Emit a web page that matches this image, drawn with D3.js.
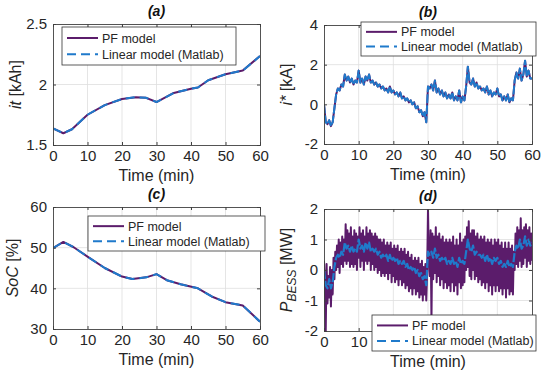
<!DOCTYPE html>
<html>
<head>
<meta charset="utf-8">
<script src="https://cdn.jsdelivr.net/npm/d3@7/dist/d3.min.js"></script>
<style>
  body { margin: 0; background: #fff; }
  svg { font-family: "Liberation Sans", Arial, sans-serif; }
  .tick text { fill: #262626; font-size: 15px; font-family: "Liberation Sans", Arial, sans-serif; }
  .axis path, .axis line { stroke: #404040; }
</style>
</head>
<body>
<svg id="fig" width="550" height="376"></svg>
<script>
// ---- data ----
var xTicks = [0, 10, 20, 30, 40, 50, 60];

// (a) it [kAh]
var itTime = [0, 3, 5.5, 10, 15, 20, 24, 27, 30, 35, 40, 42, 45, 50, 55, 60];
var itVal  = [1.638, 1.597, 1.63, 1.75, 1.83, 1.88, 1.895, 1.89, 1.855, 1.93, 1.965, 1.975, 2.035, 2.085, 2.115, 2.235];

// (c) SoC [%]
var socTime = [0, 3, 6, 10, 15, 20, 23, 27, 30, 33, 37, 42, 46, 50, 55, 60];
var socVal  = [49.9, 51.4, 50.1, 47.8, 45.0, 42.9, 42.3, 42.7, 43.5, 42.0, 41.0, 40.0, 38.0, 36.6, 35.8, 31.8];

// (b) i* [kA], one sample every 0.5 min
var iStar = [
  0.0, -0.9, -1.0, -0.8, -1.1, -0.9, -0.2, 0.5, 0.8, 0.7,
  1.0, 0.9, 1.5, 1.2, 1.4, 1.1, 1.3, 1.0, 1.2, 1.1,
  1.7, 1.1, 1.3, 1.0, 1.4, 1.2, 1.5, 1.1, 1.2, 1.0,
  1.1, 0.9, 1.0, 0.8, 0.9, 0.7, 0.8, 0.6, 0.9, 0.6,
  0.7, 0.5, 0.6, 0.4, 0.6, 0.3, 0.4, 0.2, 0.3, 0.1,
  0.2, 0.0, 0.1, -0.2, -0.1, -0.4, -0.3, -0.6, -0.4, -0.9,
  0.9, 0.8, 1.0, 0.7, 1.2, 0.6, 0.8, 0.5, 0.7, 0.4,
  0.6, 0.3, 0.5, 0.3, 0.6, 0.2, 0.4, 0.2, 0.7, 0.1,
  0.4, 0.2, 0.9, 1.9, 1.1, 1.0, 1.3, 0.9, 1.1, 0.8,
  0.9, 0.7, 0.8, 0.6, 0.9, 0.5, 0.7, 0.4, 0.6, 0.5,
  0.8, 0.4, 0.5, 0.2, 0.4, 0.2, 0.5, 0.1, 0.3, 0.2,
  1.2, 1.6, 1.3, 1.8, 1.2, 1.5, 2.2, 1.4, 1.7, 1.3,
  1.3
];

// (d) P_BESS [MW], linear model, one sample every 0.5 min
var pLin = [
  0.0, -0.5, -0.6, -0.3, -0.6, -0.4, 0.1, 0.4, 0.5, 0.4,
  0.6, 0.5, 0.9, 0.7, 0.8, 0.6, 0.8, 0.6, 0.7, 0.6,
  1.0, 0.7, 0.8, 0.6, 0.9, 0.7, 0.9, 0.6, 0.7, 0.6,
  0.7, 0.5, 0.6, 0.4, 0.5, 0.4, 0.5, 0.3, 0.5, 0.3,
  0.4, 0.3, 0.4, 0.2, 0.3, 0.2, 0.3, 0.1, 0.2, 0.0,
  0.1, 0.0, 0.1, -0.1, 0.0, -0.2, -0.1, -0.3, -0.2, -0.5,
  0.6, 0.5, 0.6, 0.4, 0.7, 0.4, 0.5, 0.3, 0.4, 0.3,
  0.4, 0.2, 0.3, 0.2, 0.4, 0.2, 0.3, 0.1, 0.4, 0.2,
  0.3, 0.2, 0.6, 1.0, 0.7, 0.6, 0.8, 0.5, 0.6, 0.5,
  0.5, 0.4, 0.5, 0.3, 0.5, 0.3, 0.4, 0.2, 0.4, 0.3,
  0.4, 0.2, 0.3, 0.1, 0.2, 0.1, 0.3, 0.1, 0.2, 0.1,
  0.6, 0.8, 0.7, 1.0, 0.7, 0.8, 1.1, 0.8, 1.0, 0.8,
  0.9
];

// (d) P_BESS [MW], PF model, one sample every 0.25 min
var pPF = [
  0.3, -0.5, -2.0, 0.2, -1.1, -0.2, -0.9, 0.1, -1.2, 0.0,
  -0.8, 0.4, -0.3, 0.6, 0.0, 0.8, 0.1, 1.0, -0.1, 0.9,
  0.2, 1.1, 0.1, 1.0, 0.3, 1.5, 0.2, 1.3, 0.3, 1.2,
  0.1, 1.4, 0.2, 1.1, 0.1, 1.3, 0.2, 1.2, 0.0, 1.1,
  0.4, 1.4, 0.1, 1.2, 0.3, 1.3, 0.0, 1.1, 0.3, 1.4,
  0.2, 1.2, 0.3, 1.3, 0.0, 1.2, 0.2, 1.1, 0.0, 1.2,
  0.1, 1.1, -0.1, 1.0, 0.0, 1.0, -0.2, 0.9, -0.1, 1.0,
  -0.2, 0.8, -0.1, 0.9, -0.3, 0.8, -0.1, 0.9, -0.4, 0.7,
  -0.2, 0.8, -0.4, 0.7, -0.3, 0.8, -0.5, 0.6, -0.3, 0.7,
  -0.5, 0.6, -0.4, 0.7, -0.6, 0.5, -0.5, 0.6, -0.7, 0.4,
  -0.6, 0.5, -0.8, 0.3, -0.6, 0.4, -0.8, 0.3, -0.7, 0.4,
  -0.9, 0.2, -0.8, 0.3, -1.0, 0.1, -0.8, 0.2, -1.0, -0.1,
  2.0, 0.3, -0.2, 1.3, -1.6, 1.2, -0.3, 1.1, -0.1, 1.4,
  -0.4, 1.1, -0.2, 1.2, -0.5, 1.0, -0.3, 1.1, -0.6, 0.9,
  -0.4, 1.0, -0.6, 0.9, -0.5, 1.0, -0.7, 0.9, -0.4, 1.1,
  -0.7, 0.8, -0.5, 1.0, -0.8, 0.8, -0.4, 1.2, -0.6, 0.9,
  -0.5, 1.0, -0.4, 1.1, 0.0, 1.4, 0.1, 1.6, -0.2, 1.2,
  -0.3, 1.3, 0.0, 1.3, -0.3, 1.1, -0.2, 1.2, -0.4, 1.0,
  -0.3, 1.1, -0.5, 1.0, -0.4, 1.1, -0.6, 0.9, -0.4, 1.0,
  -0.7, 0.9, -0.5, 1.0, -0.8, 0.8, -0.5, 1.0, -0.7, 0.9,
  -0.5, 1.0, -0.7, 0.8, -0.6, 0.9, -0.8, 0.7, -0.6, 0.9,
  -0.9, 0.7, -0.6, 0.9, -0.8, 0.7, -0.7, 0.8, -0.8, 0.6,
  0.0, 1.2, 0.2, 1.4, 0.1, 1.3, 0.3, 1.7, 0.1, 1.3,
  0.2, 1.4, 0.4, 1.5, 0.1, 1.3, 0.3, 1.4, 0.2, 1.2,
  0.3
];

var seriesNames = ["PF model", "Linear model (Matlab)"];
var pfColor = "#5b1c6b", linColor = "#1f7acb";

var half = d3.range(0, 60.001, 0.5),
    quarter = d3.range(0, 60.001, 0.25);

var svg = d3.select("#fig");

function panel(c) {
  var x = d3.scaleLinear().domain([0, 60]).range([c.left, c.right]);
  var y = d3.scaleLinear().domain(c.yDomain).range([c.bottom, c.top]);
  var g = svg.append("g");
  var w = c.right - c.left, h = c.bottom - c.top;
  var L = c.legend;

  g.append("rect").attr("x", c.left).attr("y", c.top)
    .attr("width", w).attr("height", h).attr("fill", "#fff");

  // grid
  g.append("g").selectAll("line").data(xTicks.slice(1, -1)).enter()
    .append("line")
    .attr("x1", function(d) { return x(d); }).attr("x2", function(d) { return x(d); })
    .attr("y1", c.top).attr("y2", c.bottom)
    .attr("stroke", "#dedede").attr("stroke-width", 0.8);
  g.append("g").selectAll("line").data(c.yTicks.slice(1, -1)).enter()
    .append("line")
    .attr("y1", function(d) { return y(d); }).attr("y2", function(d) { return y(d); })
    .attr("x1", c.left).attr("x2", c.right)
    .attr("stroke", "#dedede").attr("stroke-width", 0.8);

  var clipId = "clip" + c.name;
  svg.append("clipPath").attr("id", clipId).append("rect")
    .attr("x", c.left).attr("y", c.top).attr("width", w).attr("height", h);

  var lines = g.append("g").attr("clip-path", "url(#" + clipId + ")");
  c.series.forEach(function(s) {
    var line = d3.line()
      .x(function(d, i) { return x(s.t[i]); })
      .y(function(d) { return y(d); });
    lines.append("path").datum(s.v)
      .attr("d", line)
      .attr("fill", "none")
      .attr("stroke", s.color)
      .attr("stroke-width", s.width)
      .attr("stroke-dasharray", s.dash || null)
      .attr("stroke-linejoin", "round");
  });

  var fmt = function(d) { return String(d); };
  g.append("g").attr("class", "axis")
    .attr("transform", "translate(0," + c.bottom + ")")
    .call(d3.axisBottom(x).tickValues(xTicks).tickFormat(fmt).tickSize(-3).tickPadding(5))
    .call(function(a) {
      a.selectAll("text").attr("dy", "0.75em");
      // labels hidden behind the legend box are not visible in the figure
      a.selectAll(".tick").filter(function(d) {
        return L.y + L.h > c.bottom + 5 && x(d) + 8 > L.x && x(d) - 8 < L.x + L.w;
      }).select("text").remove();
    });
  g.append("g").attr("class", "axis")
    .attr("transform", "translate(" + c.left + ",0)")
    .call(d3.axisLeft(y).tickValues(c.yTicks).tickFormat(fmt).tickSize(-3).tickPadding(6));
  g.append("g").attr("class", "axis")
    .attr("transform", "translate(0," + c.top + ")")
    .call(d3.axisTop(x).tickValues(xTicks).tickFormat("").tickSize(-3));
  g.append("g").attr("class", "axis")
    .attr("transform", "translate(" + c.right + ",0)")
    .call(d3.axisRight(y).tickValues(c.yTicks).tickFormat("").tickSize(-3));
  g.selectAll(".axis path").attr("stroke-width", 0.9);

  // title
  g.append("text").text(c.title)
    .attr("x", (c.left + c.right) / 2).attr("y", c.top - 8)
    .attr("text-anchor", "middle")
    .style("font-size", "14px").style("font-weight", "bold").style("font-style", "italic")
    .attr("fill", "#111");

  // x label
  g.append("text").text("Time (min)")
    .attr("x", (c.left + c.right) / 2).attr("y", c.bottom + 36)
    .attr("text-anchor", "middle").style("font-size", "16px").attr("fill", "#262626");

  // y label
  var yl = g.append("text")
    .attr("transform", "translate(" + c.ylabX + "," + ((c.top + c.bottom) / 2) + ") rotate(-90)")
    .attr("text-anchor", "middle").style("font-size", "16px").attr("fill", "#262626");
  c.ylabel.forEach(function(p) {
    var t = yl.append("tspan").text(p.text);
    if (p.italic) t.style("font-style", "italic");
    if (p.sub) t.attr("dy", 4).style("font-size", "12px");
    if (p.after) t.attr("dy", -4);
  });

  // legend
  var lg = g.append("g");
  lg.append("rect").attr("x", L.x).attr("y", L.y).attr("width", L.w).attr("height", L.h)
    .attr("fill", "#fff").attr("stroke", "#333").attr("stroke-width", 0.8);
  var legendStyles = [
    { color: pfColor, dash: null },
    { color: linColor, dash: "9,5" }
  ];
  seriesNames.forEach(function(n, i) {
    var yy = L.y + L.h * (i === 0 ? 0.29 : 0.72);
    lg.append("line")
      .attr("x1", L.x + 5).attr("x2", L.x + 36)
      .attr("y1", yy).attr("y2", yy)
      .attr("stroke", legendStyles[i].color).attr("stroke-width", 2)
      .attr("stroke-dasharray", legendStyles[i].dash);
    lg.append("text").text(n)
      .attr("x", L.x + 40).attr("y", yy).attr("dy", "0.36em")
      .style("font-size", "12.5px").attr("fill", "#262626");
  });
}

panel({
  name: "a", left: 53, right: 260, top: 24, bottom: 145,
  yDomain: [1.5, 2.5], yTicks: [1.5, 2, 2.5], title: "(a)", ylabX: 21,
  ylabel: [{ text: "it", italic: true }, { text: " [kAh]" }],
  series: [
    { t: itTime, v: itVal, color: pfColor, width: 2 },
    { t: itTime, v: itVal, color: linColor, width: 2, dash: "9,5" }
  ],
  legend: { x: 62, y: 27, w: 174, h: 38 }
});

panel({
  name: "b", left: 324, right: 532, top: 25, bottom: 144,
  yDomain: [-2, 4], yTicks: [-2, 0, 2, 4], title: "(b)", ylabX: 292,
  ylabel: [{ text: "i*", italic: true }, { text: " [kA]" }],
  series: [
    { t: half, v: iStar, color: pfColor, width: 2 },
    { t: half, v: iStar, color: linColor, width: 2, dash: "9,2" }
  ],
  legend: { x: 361, y: 22, w: 175, h: 34 }
});

panel({
  name: "c", left: 53, right: 260, top: 207, bottom: 329,
  yDomain: [30, 60], yTicks: [30, 40, 50, 60], title: "(c)", ylabX: 18,
  ylabel: [{ text: "SoC", italic: true }, { text: " [%]" }],
  series: [
    { t: socTime, v: socVal, color: pfColor, width: 2 },
    { t: socTime, v: socVal, color: linColor, width: 2, dash: "9,5" }
  ],
  legend: { x: 88, y: 216, w: 177, h: 35 }
});

panel({
  name: "d", left: 324, right: 532, top: 209, bottom: 331,
  yDomain: [-2, 2], yTicks: [-2, -1, 0, 1, 2], title: "(d)", ylabX: 292,
  ylabel: [{ text: "P", italic: true }, { text: "BESS", italic: true, sub: true }, { text: " [MW]", after: true }],
  series: [
    { t: quarter, v: pPF, color: pfColor, width: 2 },
    { t: half, v: pLin, color: linColor, width: 2.2, dash: "9,2" }
  ],
  legend: { x: 372, y: 315, w: 164, h: 36 }
});
</script>
</body>
</html>
